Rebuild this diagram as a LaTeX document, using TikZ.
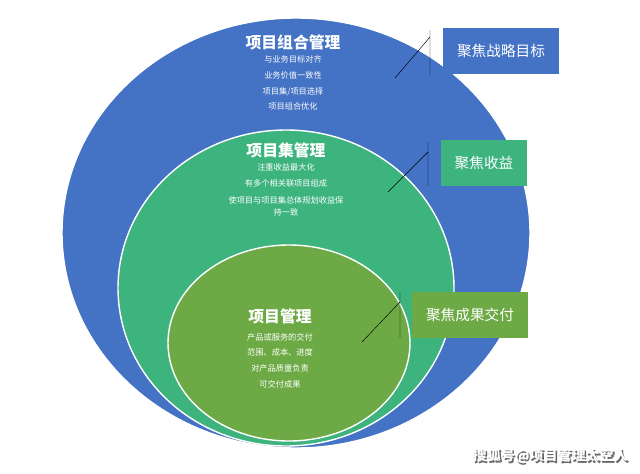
\documentclass[tikz,border=0pt]{standalone}
\usepackage{fontspec}
\setmainfont{Noto Sans CJK SC}
\usetikzlibrary{positioning}
\definecolor{pfblue}{HTML}{4472C4}
\definecolor{pgteal}{HTML}{3DB37E}
\definecolor{pjgreen}{HTML}{6DAA45}
\begin{document}
\begin{tikzpicture}[x=0.03cm, y=-0.03cm,
    ring/.style={draw=white, line width=1.2pt},
    title/.style={text=white, font=\bfseries\fontsize{13.5}{15}\selectfont},
    items/.style={text=white, align=center, font=\fontsize{7}{13.5}\selectfont},
    tag/.style={text=white, minimum height=1.4cm, font=\fontsize{12.5}{14}\selectfont},
    pointer/.style={black, thin}
  ]
  \useasboundingbox (0,0) rectangle (640,474);
  % Nested scopes
  \fill[pfblue, ring] (296,233) ellipse (234 and 215);
  \fill[pgteal, ring] (286,288) ellipse (168 and 158);
  \fill[pjgreen, ring] (289,343) ellipse (121 and 98);

  % Portfolio
  \node[title] (pftitle) at (293,42) {项目组合管理};
  \node[items, below=-2pt of pftitle] (pfitems) {与业务目标对齐\\业务价值一致性\\项目集/项目选择\\项目组合优化};
  % Program
  \node[title] (pgtitle) at (286,150) {项目集管理};
  \node[items, below=-2pt of pgtitle, font=\fontsize{7}{10}\selectfont] (pgitems) {注重收益最大化\\[4pt]有多个相关联项目组成\\[4pt]使项目与项目集总体规划收益保\\持一致};
  % Project
  \node[title] (pjtitle) at (280,316) {项目管理};
  \node[items, below=1pt of pjtitle] (pjitems) {产品或服务的交付\\范围、成本、进度\\对产品质量负责\\可交付成果};

  % Focus tags
  \node[tag, fill=pfblue, minimum width=3.5cm] (tagpf) at (501,51) {聚焦战略目标};
  \node[tag, fill=pgteal, minimum width=2.6cm] (tagpg) at (484,163) {聚焦收益};
  \node[tag, fill=pjgreen, minimum width=3.5cm] (tagpj) at (470,315) {聚焦成果交付};

  \coordinate (pfa) at (395,78);  \coordinate (pfb) at (430,37);
  \coordinate (pga) at (388,192); \coordinate (pgb) at (428,152);
  \coordinate (pja) at (362,342); \coordinate (pjb) at (400,302);
  \draw[pointer] (pfa) -- (pfb) (430,30) -- (430,75);
  \draw[pointer] (pga) -- (pgb) (428,142) -- (428,186);
  \draw[pointer] (pja) -- (pjb) (400,292) -- (400,338);

  \node[text=black!60, font=\bfseries\fontsize{12}{14}\selectfont, anchor=east] at (633.6,457.6) {搜狐号@项目管理太空人};
  \node[text=white, font=\bfseries\fontsize{12}{14}\selectfont, anchor=east] (mark) at (632,456) {搜狐号@项目管理太空人};
\end{tikzpicture}
\end{document}
